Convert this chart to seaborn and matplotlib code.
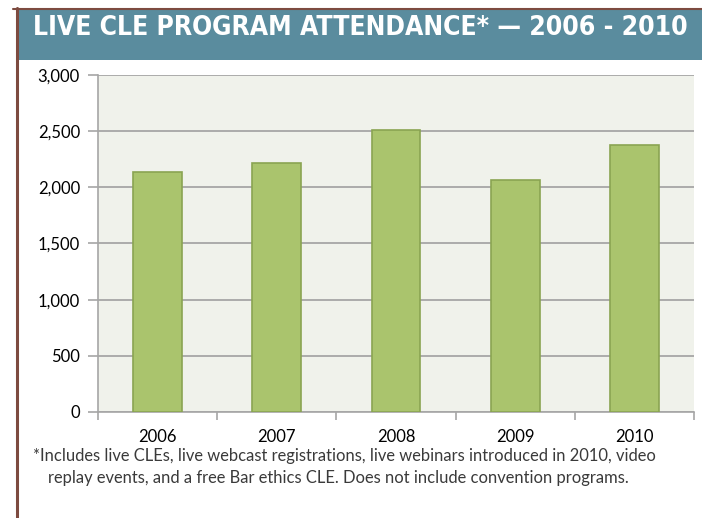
import numpy as np
import pandas as pd
import seaborn as sns
import matplotlib.pyplot as plt
from matplotlib.patches import Rectangle
from matplotlib.lines import Line2D
from matplotlib.ticker import FuncFormatter, FixedLocator

# Data
years = ["2006", "2007", "2008", "2009", "2010"]
attendance = [2140, 2220, 2508, 2066, 2375]
y_ticks = [0, 500, 1000, 1500, 2000, 2500, 3000]

df = pd.DataFrame({"year": years, "attendance": attendance})

sns.set_style("white")
plt.rcParams["font.family"] = ["Lato", "DejaVu Sans"]

fig = plt.figure(figsize=(7.02, 5.18), dpi=100)
W, H = 702, 518

# Frame: brown border and teal title band
brown = "#7d4b40"
fig.add_artist(Line2D([13 / W, 1], [1 - 8.5 / H, 1 - 8.5 / H], color=brown, lw=1.5))
fig.add_artist(Line2D([17 / W, 17 / W], [0, 1 - 8 / H], color=brown, lw=2.2))
fig.add_artist(Rectangle((18 / W, 1 - 60 / H), 1 - 18 / W, 51 / H,
                         transform=fig.transFigure, color="#5a8c9e", lw=0))
fig.text(33 / W, 1 - 28 / H, "LIVE CLE PROGRAM ATTENDANCE* \u2014 2006 - 2010",
         color="white", fontsize=19, fontweight="bold", va="center", ha="left",
         family=["DejaVu Sans"], fontstretch="condensed")

# Axes
ax = fig.add_axes([98 / W, 1 - 412 / H, (694 - 98) / W, (412 - 75) / H])
ax.set_facecolor("#f0f2eb")
sns.barplot(data=df, x="year", y="attendance", ax=ax, color="#aac46d",
            width=0.41, saturation=1, edgecolor="#8aa452", linewidth=1.2, zorder=3)

ax.set_ylim(0, 3000)
ax.set_xlim(-0.5, len(years) - 0.5)
ax.yaxis.set_major_locator(FixedLocator(y_ticks))
ax.yaxis.set_major_formatter(FuncFormatter(lambda v, p: f"{int(v):,}"))
ax.grid(axis="y", color="#a6a6a6", lw=1.3, zorder=0)
ax.set_axisbelow(True)
ax.set_xlabel("")
ax.set_ylabel("")

for s in ["top", "right"]:
    ax.spines[s].set_visible(False)
for s in ["left", "bottom"]:
    ax.spines[s].set_color("#a6a6a6")
    ax.spines[s].set_linewidth(1.2)

ax.tick_params(axis="y", length=7, width=1.2, color="#a6a6a6", direction="out",
               labelsize=12, labelcolor="black", pad=6, left=True)
ax.tick_params(axis="x", length=0, labelsize=12, labelcolor="black", pad=12)
# minor ticks on x at category boundaries
ax.set_xticks(np.arange(-0.5, len(years), 1.0), minor=True)
ax.tick_params(axis="x", which="minor", length=6, width=1.2, color="#a6a6a6",
               direction="out", bottom=True)

# Footnote
fig.text(33 / W, 1 - 456 / H,
         "*Includes live CLEs, live webcast registrations, live webinars introduced in 2010, video",
         fontsize=11.9, color="#3a3a3a", va="center", ha="left")
fig.text(48 / W, 1 - 478 / H,
         "replay events, and a free Bar ethics CLE. Does not include convention programs.",
         fontsize=11.9, color="#3a3a3a", va="center", ha="left")

fig.savefig("out.png", dpi=100)
